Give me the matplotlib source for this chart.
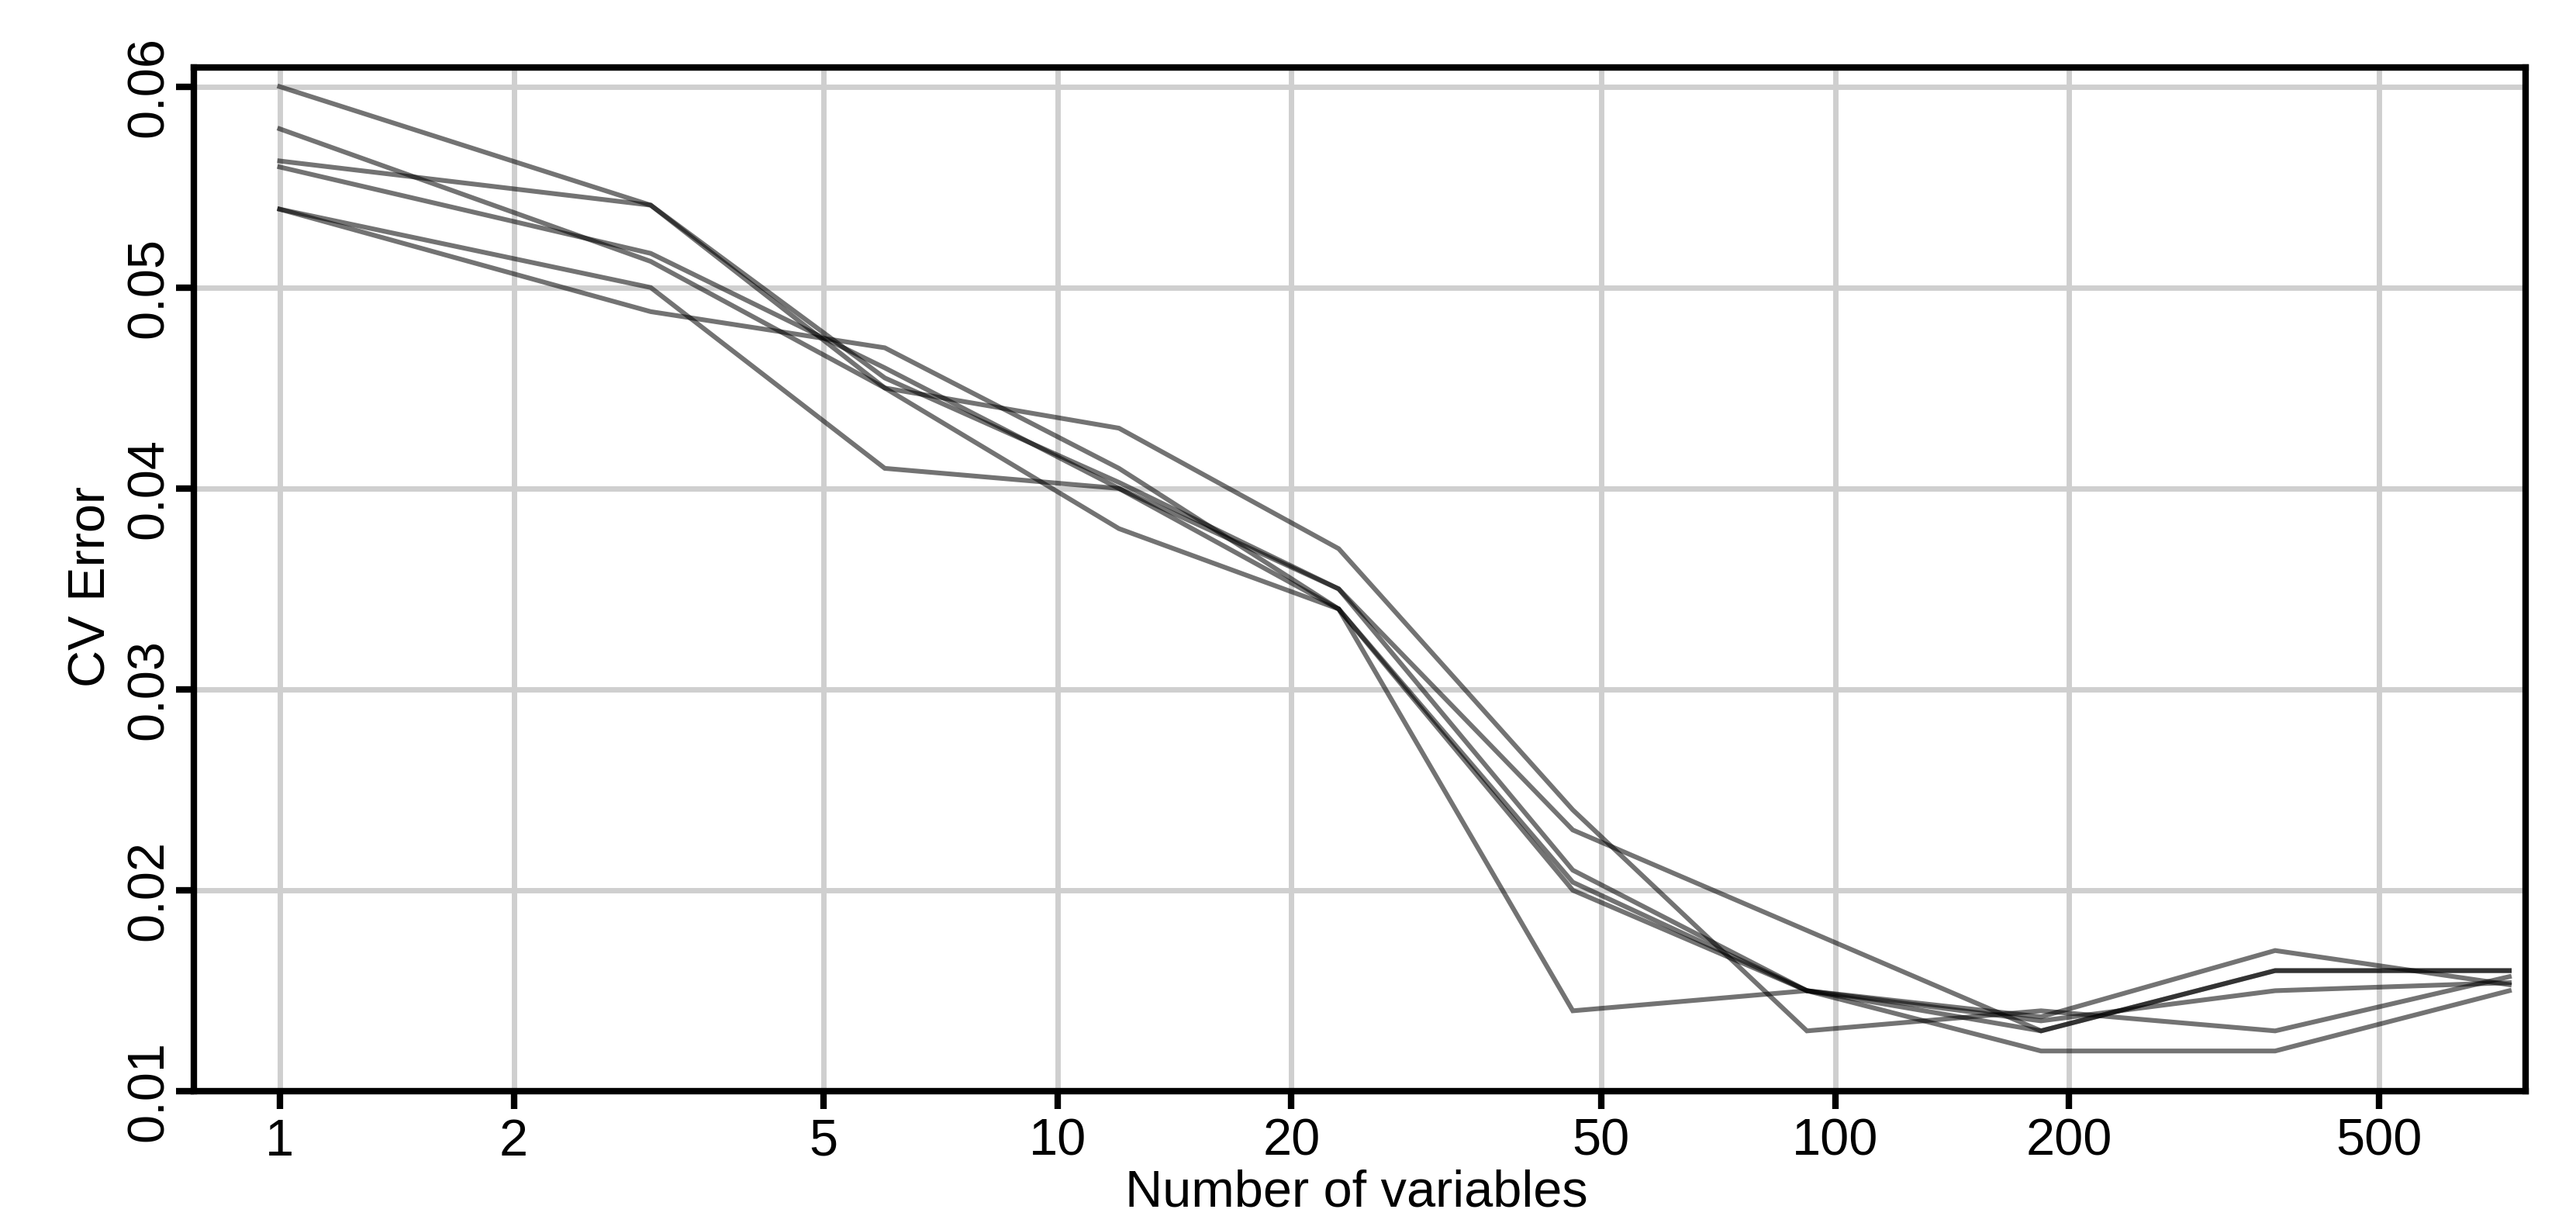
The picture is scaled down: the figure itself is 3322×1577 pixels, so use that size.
import matplotlib
matplotlib.use("Agg")
import matplotlib.pyplot as plt
from matplotlib.ticker import FixedLocator, FixedFormatter, NullLocator

# ---- data ----
n_var = [1, 3, 6, 12, 23, 46, 92, 184, 368, 736]

run_a = [0.0600, 0.0541, 0.0455, 0.0403, 0.0350, 0.0210, 0.0150, 0.0137, 0.0170, 0.0153]
run_b = [0.0579, 0.0513, 0.0450, 0.0380, 0.0340, 0.0140, 0.0150, 0.0135, 0.0150, 0.0154]
run_c = [0.0563, 0.0541, 0.0450, 0.0430, 0.0370, 0.0240, 0.0130, 0.0140, 0.0130, 0.0157]
run_d = [0.0560, 0.0517, 0.0460, 0.0400, 0.0350, 0.0230, 0.0180, 0.0130, 0.0160, 0.0160]
run_e = [0.0539, 0.0500, 0.0410, 0.0400, 0.0340, 0.0204, 0.0150, 0.0130, 0.0160, 0.0160]
run_f = [0.0539, 0.0488, 0.0470, 0.0410, 0.0340, 0.0200, 0.0150, 0.0120, 0.0120, 0.0150]

x_ticks = [1, 2, 5, 10, 20, 50, 100, 200, 500]
x_tick_labels = ["1", "2", "5", "10", "20", "50", "100", "200", "500"]
y_ticks = [0.01, 0.02, 0.03, 0.04, 0.05, 0.06]
y_tick_labels = ["0.01", "0.02", "0.03", "0.04", "0.05", "0.06"]

x_label = "Number of variables"
y_label = "CV Error"

# ---- figure ----
W, H = 3322, 1577
fig = plt.figure(figsize=(W / 100, H / 100), dpi=100)
plt.rcParams["font.family"] = ["Liberation Sans", "DejaVu Sans"]

left_px, right_px, top_px, bottom_px = 249.7, 3256.7, 86.7, 1407.0
ax = fig.add_axes([left_px / W, 1 - bottom_px / H,
                   (right_px - left_px) / W, (bottom_px - top_px) / H])

ax.set_xscale("log")
for run in (run_a, run_b, run_c, run_d, run_e, run_f):
    ax.plot(n_var, run, color="black", alpha=0.55, lw=4.4,
            solid_joinstyle="miter", zorder=3)

ax.set_xlim(0.7752, 771.9)
ax.set_ylim(0.01, 0.060965)

ax.xaxis.set_major_locator(FixedLocator(x_ticks))
ax.xaxis.set_major_formatter(FixedFormatter(x_tick_labels))
ax.xaxis.set_minor_locator(NullLocator())
ax.yaxis.set_major_locator(FixedLocator(y_ticks))
ax.yaxis.set_major_formatter(FixedFormatter(y_tick_labels))
ax.yaxis.set_minor_locator(NullLocator())

ax.grid(True, which="major", color="#cfcfcf", lw=5.0, zorder=1)
ax.set_axisbelow(True)

for sp in ax.spines.values():
    sp.set_linewidth(6.0)
    sp.set_color("black")
    sp.set_zorder(4)

ax.tick_params(axis="both", direction="out", length=16.5, width=6.0,
               color="black", labelsize=48, labelcolor="black")
ax.tick_params(axis="x", pad=8.5)
ax.tick_params(axis="y", pad=2, labelrotation=90)
for lab in ax.get_yticklabels():
    lab.set_va("center")

fig.text(1749 / W, 1 - 1555 / H, x_label, ha="center", va="baseline",
         fontsize=48, color="black")
fig.text(135 / W, 1 - 757 / H, y_label, rotation=90, rotation_mode="anchor",
         ha="center", va="baseline", fontsize=48, color="black")

fig.savefig("out.png", dpi=100, facecolor="white")
